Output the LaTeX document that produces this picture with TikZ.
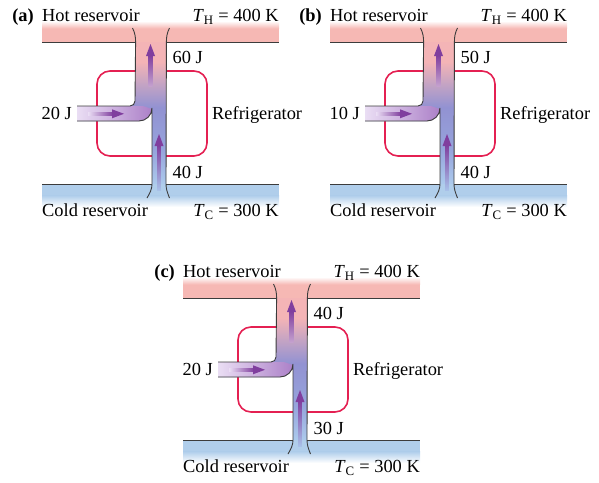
\documentclass[tikz,border=0pt]{standalone}
\usepackage{fontspec}
\setmainfont{Liberation Serif}
\definecolor{hotband}{RGB}{246,184,180}
\definecolor{coldband}{RGB}{176,206,235}
\definecolor{chtop}{RGB}{244,180,182}
\definecolor{chmid}{RGB}{146,146,210}
\definecolor{chlow}{RGB}{150,164,220}
\definecolor{chbot}{RGB}{172,202,236}
\definecolor{inleft}{RGB}{234,222,244}
\definecolor{inright}{RGB}{172,128,200}
\definecolor{arrowc}{RGB}{128,62,158}
\definecolor{uptail}{RGB}{196,160,206}
\definecolor{lowtail}{RGB}{168,192,232}
\definecolor{fridgec}{RGB}{228,32,82}
\definecolor{edgec}{RGB}{60,60,60}
\pgfdeclareverticalshading{chanshade}{100bp}{color(0bp)=(chbot); color(25bp)=(chbot); color(37bp)=(chlow); color(52bp)=(chmid); color(68bp)=(chtop); color(75bp)=(chtop); color(100bp)=(chtop)}
\tikzset{
  lbl/.style={font=\fontsize{18.4}{20}\selectfont, inner sep=0pt},
  edgeline/.style={draw=edgec, line width=0.9pt},
  fridgebox/.style={draw=fridgec, line width=1.6pt, rounded corners=13pt},
}
\newcommand\fridgepanel[5]{%
  % reservoirs
  \fill[hotband] (42,28) rectangle (279,42);
  \shade[top color=white, bottom color=hotband] (42,21) rectangle (279,28.5);
  \fill[coldband] (42,184) rectangle (279,196);
  \shade[top color=coldband, bottom color=white] (42,195.5) rectangle (279,207);
  % refrigerator cycle
  \draw[fridgebox] (97,71) rectangle (207,156);
  % energy channel
  \shade[shading=chanshade]
    (135,42) -- (135,101) .. controls (135,103.8) and (132.8,106) .. (130,106)
    -- (77,106) -- (77,121) -- (139,121)
    .. controls (146.2,121) and (152,115.2) .. (152,108)
    -- (152,184) -- (166,184) -- (166,42) -- cycle;
  \shade[left color=inleft, right color=inright]
    (77,106) -- (143,106) -- (152,109)
    .. controls (152,115.2) and (146.2,121) .. (139,121) -- (77,121) -- cycle;
  % arrows
  \shade[top color=arrowc, bottom color=uptail] (148.7,55) rectangle (152.3,86);
  \fill[arrowc] (150.5,44) -- (155,56) -- (146,56) -- cycle;
  \shade[top color=arrowc, bottom color=lowtail] (157.2,145) rectangle (160.8,190);
  \fill[arrowc] (159,134) -- (163.5,146) -- (154.5,146) -- cycle;
  \shade[left color=inleft, right color=arrowc] (88,112) rectangle (113,115.6);
  \fill[arrowc] (124,113.8) -- (112,109.3) -- (112,118.3) -- cycle;
  % outlines
  \draw[edgeline] (42,42) -- (135,42);
  \draw[edgeline] (166,42) -- (279,42);
  \draw[edgeline] (42,184) -- (152,184);
  \draw[edgeline] (166,184) -- (279,184);
  \draw[edgeline] (132.5,28) .. controls (135,33) and (135.6,37) .. (135.6,42)
    -- (135,101) .. controls (135,103.8) and (132.8,106) .. (130,106) -- (77,106);
  \draw[edgeline] (77,121) -- (139,121)
    .. controls (146.2,121) and (152,115.2) .. (152,108)
    -- (152,184) .. controls (152,189) and (150,193) .. (147,198);
  \draw[edgeline] (169.5,28) .. controls (167,33) and (166.4,37) .. (166.4,42)
    -- (166,184) .. controls (166,189) and (167.5,193) .. (169.5,198);
  % labels
  \node[lbl, anchor=base west] (#1-hot) at (42,21.5) {Hot reservoir};
  \node[lbl, anchor=base east] (#1-tag) at ([xshift=-8pt]#1-hot.base west) {\textbf{(#2)}};
  \node[lbl, anchor=base east] (#1-th) at (279,21.5) {\textit{T}\textsubscript{H} = 400 K};
  \node[lbl, anchor=base west] (#1-cold) at (42,216.5) {Cold reservoir};
  \node[lbl, anchor=base east] (#1-tc) at (279,216.5) {\textit{T}\textsubscript{C} = 300 K};
  \node[lbl, anchor=base west] (#1-qh) at (172.5,63.3) {#3 J};
  \node[lbl, anchor=base west] (#1-qc) at (172.5,178) {#5 J};
  \node[lbl, anchor=base east] (#1-w) at (72,119.3) {#4 J};
  \node[lbl, anchor=base west] (#1-fr) at (212,119.3) {Refrigerator};
}
\begin{document}
\begin{tikzpicture}[x=1pt,y=-1pt]
  \useasboundingbox (0,0) rectangle (599,482);
  \begin{scope}
    \fridgepanel{a}{a}{60}{20}{40}
  \end{scope}
  \begin{scope}[shift={(288,0)}]
    \fridgepanel{b}{b}{50}{10}{40}
  \end{scope}
  \begin{scope}[shift={(141,256)}]
    \fridgepanel{c}{c}{40}{20}{30}
  \end{scope}
\end{tikzpicture}
\end{document}
